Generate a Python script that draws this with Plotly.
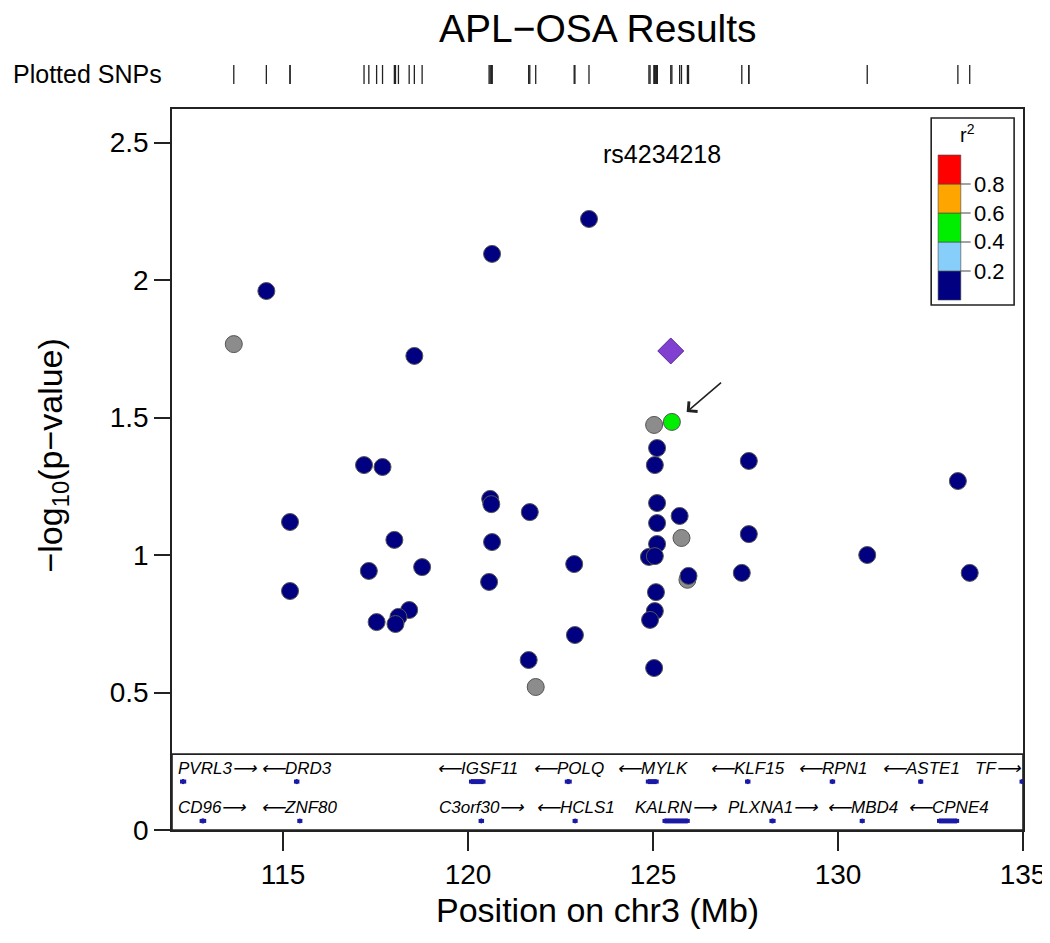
import plotly.graph_objects as go

# ---------------- data ----------------
snp_pos = [113.67, 125.03, 121.83, 125.77, 125.93,
           114.55, 118.55, 120.65, 123.27,
           117.19, 117.69, 120.60, 120.63, 121.67, 115.19, 118.01, 120.65,
           117.32, 118.76, 122.87, 120.57, 115.19, 118.41, 118.12, 118.04,
           117.53, 122.89, 121.64,
           125.11, 125.05, 125.11, 125.72, 125.11, 125.11, 124.89, 125.05,
           125.96, 125.08, 125.05, 124.92, 125.03,
           127.59, 133.24, 127.59, 130.79, 127.40, 133.56,
           125.51]
snp_logp = [1.767, 1.473, 0.520, 1.062, 0.910,
            1.960, 1.724, 2.095, 2.222,
            1.327, 1.320, 1.204, 1.185, 1.156, 1.120, 1.055, 1.047,
            0.942, 0.956, 0.967, 0.902, 0.869, 0.800, 0.775, 0.749,
            0.756, 0.709, 0.618,
            1.389, 1.327, 1.189, 1.142, 1.116, 1.040, 0.993, 0.996,
            0.924, 0.865, 0.796, 0.764, 0.589,
            1.342, 1.269, 1.076, 1.000, 0.935, 0.935,
            1.484]
# r^2 with the index SNP (None = not available -> grey)
snp_r2 = [None, None, None, None, None,
          0.05, 0.05, 0.05, 0.05,
          0.05, 0.05, 0.05, 0.05, 0.05, 0.05, 0.05, 0.05,
          0.05, 0.05, 0.05, 0.05, 0.05, 0.05, 0.05, 0.05,
          0.05, 0.05, 0.05,
          0.05, 0.05, 0.05, 0.05, 0.05, 0.05, 0.05, 0.05,
          0.05, 0.05, 0.05, 0.05, 0.05,
          0.05, 0.05, 0.05, 0.05, 0.05, 0.05,
          0.50]

index_snp_name = "rs4234218"
index_snp_pos = 125.48
index_snp_logp = 1.742

r2_breaks = [0.0, 0.2, 0.4, 0.6, 0.8, 1.0]
r2_colors = ["#000080", "#87CEFA", "#00EE00", "#FFA500", "#FF0000"]
r2_tick_labels = ["0.2", "0.4", "0.6", "0.8"]
missing_color = "#8C8C8C"

gene_names = ["PVRL3", "DRD3", "IGSF11", "POLQ", "MYLK", "KLF15", "RPN1", "ASTE1", "TF",
              "CD96", "ZNF80", "C3orf30", "HCLS1", "KALRN", "PLXNA1", "MBD4", "CPNE4"]
gene_start = [112.27, 115.35, 120.08, 122.67, 124.86, 127.54, 129.83, 132.22, 134.96,
              112.80, 115.44, 120.34, 122.88, 125.31, 128.20, 130.64, 132.73]
gene_end = [112.33, 115.39, 120.42, 122.75, 125.10, 127.58, 129.87, 132.25, 135.0,
            112.87, 115.47, 120.38, 122.91, 125.94, 128.26, 130.67, 133.22]
gene_strand = ["+", "-", "-", "-", "-", "-", "-", "-", "+",
               "+", "-", "+", "-", "+", "+", "-", "-"]
gene_row = [1, 1, 1, 1, 1, 1, 1, 1, 1,
            2, 2, 2, 2, 2, 2, 2, 2]

x_ticks = [115, 120, 125, 130, 135]
y_ticks = [0, 0.5, 1, 1.5, 2, 2.5]

# ---------------- geometry helpers ----------------
W, H = 1050, 943
ML, MR, MT, MB = 164, 24, 50, 121
PW, PH = W - ML - MR, H - MT - MB
XR = [112, 135]
YR = [0, 2.622]
FONT = "Liberation Sans, Arial, sans-serif"


def pxx(p):
    return (p - ML) / PW


def pxy(p):
    return (H - MB - p) / PH


main_top = pxy(101)


def color_for(r2):
    if r2 is None:
        return missing_color
    for i in range(len(r2_colors)):
        if r2 <= r2_breaks[i + 1]:
            return r2_colors[i]
    return r2_colors[-1]


fig = go.Figure()

# plotted SNP rug on top
rx, ry = [], []
for xv in snp_pos + [index_snp_pos]:
    rx += [xv, xv, None]
    ry += [0, 1, None]
fig.add_trace(go.Scatter(x=rx, y=ry, mode="lines", yaxis="y2",
                         line=dict(color="#222222", width=1.3),
                         hoverinfo="skip", showlegend=False))

# gene panel
gene_y_mark = {1: 0.176, 2: 0.033}
gene_y_text = {1: 0.224, 2: 0.082}
for i, name in enumerate(gene_names):
    fig.add_trace(go.Scatter(x=[gene_start[i], gene_end[i]],
                             y=[gene_y_mark[gene_row[i]]] * 2,
                             mode="lines+markers",
                             line=dict(color="#1a1aa6", width=5),
                             marker=dict(symbol="square", size=4, color="#1a1aa6"),
                             hoverinfo="skip", showlegend=False))

# association points
fig.add_trace(go.Scatter(x=snp_pos, y=snp_logp, mode="markers",
                         marker=dict(size=17, color=[color_for(r) for r in snp_r2],
                                     line=dict(color="#555555", width=1)),
                         showlegend=False))
fig.add_trace(go.Scatter(x=[index_snp_pos], y=[index_snp_logp], mode="markers",
                         marker=dict(symbol="diamond", size=20, color="#8040D0",
                                     line=dict(color="#5a2a99", width=1)),
                         showlegend=False))

shapes = []
annotations = []

# gene panel box
shapes.append(dict(type="rect", xref="x", yref="y", x0=XR[0], x1=XR[1], y0=0, y1=0.276,
                   line=dict(color="#222222", width=1.6), fillcolor="rgba(0,0,0,0)", layer="below"))

ra = "⟶"
la = "⟵"
for i, name in enumerate(gene_names):
    mid = (gene_start[i] + gene_end[i]) / 2
    label = name + ra if gene_strand[i] == "+" else la + name
    xa = "center"
    xpos = mid
    if mid < XR[0] + 1.0:
        xa, xpos = "left", XR[0] + 0.1
    elif mid > XR[1] - 1.0:
        xa, xpos = "right", XR[1] - 0.01
    annotations.append(dict(x=xpos, y=gene_y_text[gene_row[i]], xref="x", yref="y",
                            text="<i>" + label + "</i>", showarrow=False, xanchor=xa,
                            yanchor="middle", font=dict(family=FONT, size=17, color="black")))

# index SNP label and arrow
annotations.append(dict(x=125.25, y=2.46, xref="x", yref="y", text=index_snp_name,
                        showarrow=False, font=dict(family=FONT, size=25, color="black")))
annotations.append(dict(x=125.91, y=1.52, xref="x", yref="y", ax=126.92, ay=1.636,
                        axref="x", ayref="y", text=" ", showarrow=True, arrowhead=4,
                        arrowsize=1.6, arrowwidth=1.6, arrowcolor="#222222"))

# r^2 legend
shapes.append(dict(type="rect", xref="paper", yref="paper", x0=pxx(933), x1=pxx(1017),
                   y0=pxy(297), y1=pxy(110), line=dict(color="#222222", width=1.6),
                   fillcolor="white"))
for i, c in enumerate(r2_colors):
    y0 = 292 - r2_breaks[i] * 145
    y1 = 292 - r2_breaks[i + 1] * 145
    shapes.append(dict(type="rect", xref="paper", yref="paper", x0=pxx(940), x1=pxx(963),
                       y0=pxy(y0), y1=pxy(y1), line=dict(color="#444444", width=0.6),
                       fillcolor=c))
for i, lab in enumerate(r2_tick_labels):
    yy = 292 - r2_breaks[i + 1] * 145
    shapes.append(dict(type="line", xref="paper", yref="paper", x0=pxx(963), x1=pxx(973),
                       y0=pxy(yy), y1=pxy(yy), line=dict(color="#666666", width=1.2)))
    annotations.append(dict(x=pxx(974), y=pxy(yy), xref="paper", yref="paper", text=lab,
                            showarrow=False, xanchor="left", yanchor="middle",
                            font=dict(family=FONT, size=22, color="black")))
annotations.append(dict(x=pxx(970), y=pxy(125), xref="paper", yref="paper",
                        text="r<sup>2</sup>", showarrow=False, xanchor="center",
                        yanchor="middle", font=dict(family=FONT, size=20, color="black")))

# titles
annotations.append(dict(x=0.5, y=pxy(20), xref="paper", yref="paper", text="APL−OSA Results",
                        showarrow=False, xanchor="center", yanchor="middle",
                        font=dict(family=FONT, size=39, color="black")))
annotations.append(dict(x=pxx(1), y=pxy(66), xref="paper", yref="paper", text="Plotted SNPs",
                        showarrow=False, xanchor="left", yanchor="middle",
                        font=dict(family=FONT, size=25, color="black")))
annotations.append(dict(x=0.5, y=pxy(902), xref="paper", yref="paper",
                        text="Position on chr3 (Mb)", showarrow=False, xanchor="center",
                        yanchor="middle", font=dict(family=FONT, size=34, color="black")))
annotations.append(dict(x=pxx(42), y=pxy(448), xref="paper", yref="paper",
                        text="−log<sub>10</sub>(p−value)", showarrow=False, textangle=-90,
                        xanchor="center", yanchor="middle",
                        font=dict(family=FONT, size=34, color="black")))

fig.update_layout(
    width=W, height=H,
    margin=dict(l=ML, r=MR, t=MT, b=MB),
    paper_bgcolor="white", plot_bgcolor="white",
    showlegend=False,
    font=dict(family=FONT, color="black"),
    xaxis=dict(range=XR, tickvals=x_ticks, ticktext=[str(t) for t in x_ticks],
               ticks="outside", ticklen=19, tickwidth=1.5, tickcolor="#222222",
               showline=True, linecolor="#222222", linewidth=1.6, mirror=True,
               showgrid=False, zeroline=False, tickfont=dict(family=FONT, size=28),
               anchor="y"),
    yaxis=dict(range=YR, domain=[0, main_top], tickvals=y_ticks,
               ticktext=["0", "0.5", "1", "1.5", "2", "2.5"],
               ticks="outside", ticklen=16, tickwidth=1.5, tickcolor="#222222",
               showline=True, linecolor="#222222", linewidth=1.6, mirror=True,
               showgrid=False, zeroline=False, tickfont=dict(family=FONT, size=28)),
    yaxis2=dict(range=[0, 1], domain=[pxy(76), pxy(57)], visible=False, anchor="x",
                showgrid=False, zeroline=False),
    shapes=shapes,
    annotations=annotations,
)

fig.write_html("out.html")
